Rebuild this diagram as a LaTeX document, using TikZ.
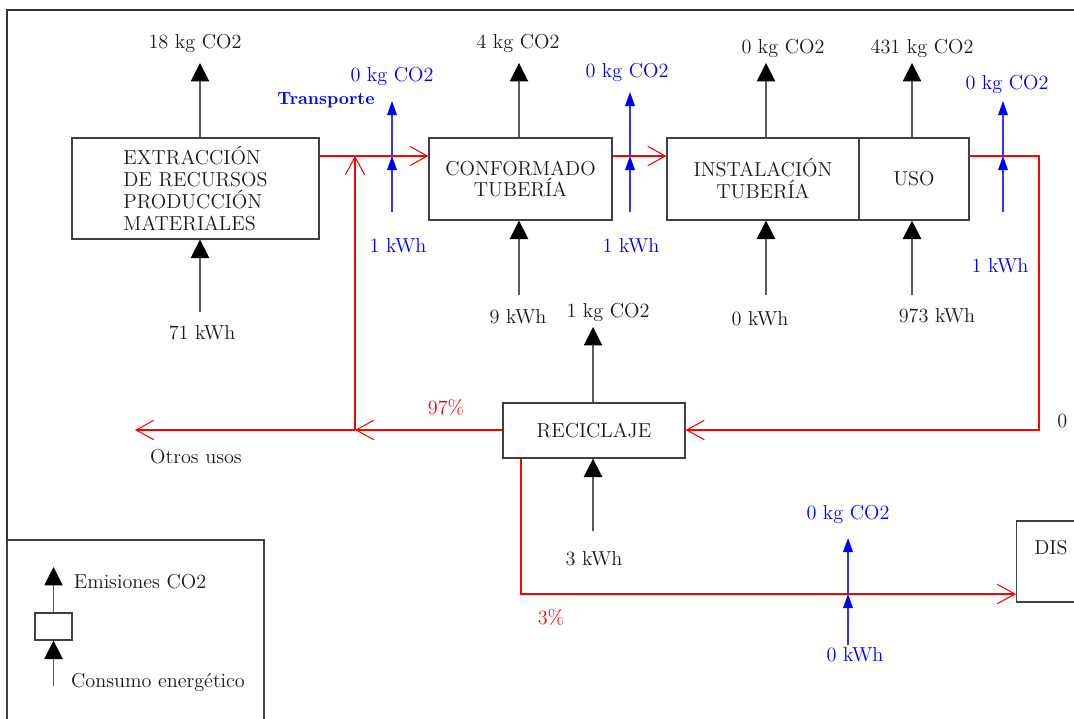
\documentclass[tikz,border=0pt]{standalone}
\usepackage{tikz}
\usetikzlibrary{arrows.meta}

\begin{document}
\begin{tikzpicture}[x=0.02cm, y=-0.02cm,
  font=\fontsize{11.5}{12.5}\selectfont,
  box/.style={draw=black!75, line width=0.7pt, inner sep=2pt, text=black!90},
  emis/.style={draw=black!65, line width=0.6pt, -{Triangle[width=10.5pt,length=10.5pt,color=black]}},
  flow/.style={draw=red, line width=0.6pt, -{Straight Barb[length=10pt,width=11pt]}},
  trans/.style={draw=blue!80, line width=0.7pt, -{Triangle[width=5.5pt,length=8pt,color=blue]}},
  lbl/.style={text=black!90, inner sep=0pt},
  blbl/.style={text=blue, inner sep=0pt},
  rlbl/.style={text=red, inner sep=0pt}]

\useasboundingbox (0,0) rectangle (1074,718);
\clip (0,0) rectangle (1074,718);

\draw[black!80, line width=0.7pt] (7,740) -- (7,10) -- (1090,10);

% procesos
\node[box, minimum width=4.94cm, minimum height=2.02cm, align=left] (extr) at (195.5,188.5) {EXTRACCIÓN\\DE RECURSOS\\PRODUCCIÓN\\MATERIALES};
\node[box, minimum width=3.66cm, minimum height=1.64cm, align=center] (conf) at (520.5,179) {CONFORMADO\\TUBERÍA};
\node[box, minimum width=3.84cm, minimum height=1.64cm, align=center] (inst) at (763,179) {INSTALACIÓN\\TUBERÍA};
\node[box, minimum width=2.2cm, minimum height=1.64cm] (uso) at (914,179) {USO};
\node[box, minimum width=3.64cm, minimum height=1.1cm] (recic) at (594,430.5) {RECICLAJE};
\node[box, anchor=west, minimum width=2.2cm, minimum height=1.62cm] (disp) at (1016,561.5) {};
\node[lbl, anchor=west] (dispt) at (1034,548) {DIS};

% flujo de material
\coordinate (j1) at (355,156);
\coordinate (j2) at (355,430);
\coordinate (otros) at (135,430);
\coordinate (c1) at (1039,156);
\coordinate (c2) at (1039,430);
\coordinate (c3) at (521,594);

\draw[flow] (extr.east |- j1) -- (conf.west |- j1);
\draw[flow] (j2) -- (j1);
\draw[flow] (conf.east |- j1) -- (inst.west |- j1);
\draw[flow] (uso.east |- j1) -- (c1) -- (c2) -- (recic.east |- c2);
\draw[flow] (recic.west |- j2) -- (j2);
\draw[flow] (j2) -- (otros);
\draw[flow] (c3 |- recic.south) -- (c3) -- (disp.west |- c3);

% emisiones y consumos
\foreach \b/\x/\t/\s in {extr/200/63/312, conf/519/63/295, inst/766/63/295, uso/912/63/295, recic/593/327/531}
{
    \coordinate (up-\b) at (\x,\t);
    \coordinate (dn-\b) at (\x,\s);
    \draw[emis] (up-\b |- \b.north) -- (up-\b);
    \draw[emis] (dn-\b) -- (dn-\b |- \b.south);
}

% transporte
\foreach \n/\x/\b/\m/\t in {t1/392/212/156/101, t2/630/212/156/92, t3/1003/212/156/101, t4/848/645/594/538}
{
    \coordinate (\n-b) at (\x,\b);
    \coordinate (\n-m) at (\x,\m);
    \coordinate (\n-t) at (\x,\t);
    \draw[trans] (\n-b) -- (\n-m);
    \draw[trans] (\n-m) -- (\n-t);
}

\node[lbl] (co-extr) at (195,43) {18 kg CO2};
\node[lbl] (co-conf) at (518,43) {4 kg CO2};
\node[lbl] (co-inst) at (783,48) {0 kg CO2};
\node[lbl] (co-uso) at (922,48) {431 kg CO2};
\node[lbl] (co-recic) at (608,312) {1 kg CO2};

\node[lbl] (kw-extr) at (202,333) {71 kWh};
\node[lbl] (kw-conf) at (518,317) {9 kWh};
\node[lbl] (kw-inst) at (760,319) {0 kWh};
\node[lbl] (kw-uso) at (937,316) {973 kWh};
\node[lbl] (kw-recic) at (594,559) {3 kWh};

\node[blbl, font=\fontsize{10}{12}\selectfont\bfseries] (transp) at (326,100) {Transporte};
\node[blbl] (co-t1) at (392,76) {0 kg CO2};
\node[blbl] (kw-t1) at (398,246) {1 kWh};
\node[blbl] (co-t2) at (627,72) {0 kg CO2};
\node[blbl] (kw-t2) at (631,246) {1 kWh};
\node[blbl] (co-t3) at (1007,84) {0 kg CO2};
\node[blbl] (kw-t3) at (1000,266) {1 kWh};
\node[blbl] (co-t4) at (848,514) {0 kg CO2};
\node[blbl] (kw-t4) at (855,655) {0 kWh};

\node[rlbl] (p97) at (446,407) {97\%};
\node[rlbl] (p3) at (551,617) {3\%};
\node[lbl, anchor=west] (p0) at (1057,421) {0};
\node[lbl] (otros-t) at (196,457) {Otros usos};

% leyenda
\draw[black!75, line width=0.7pt] (7,540) rectangle (264,740);
\node[box, minimum width=0.74cm, minimum height=0.54cm] (leg) at (53.5,626.5) {};
\coordinate (leg-t) at (53.5,567);
\coordinate (leg-b) at (53.5,686);
\draw[emis] (leg.north) -- (leg-t);
\draw[emis] (leg-b) -- (leg.south);
\node[lbl] (leg-co) at (140,582) {Emisiones CO2};
\node[lbl] (leg-kw) at (158,682) {Consumo energético};

\end{tikzpicture}
\end{document}
